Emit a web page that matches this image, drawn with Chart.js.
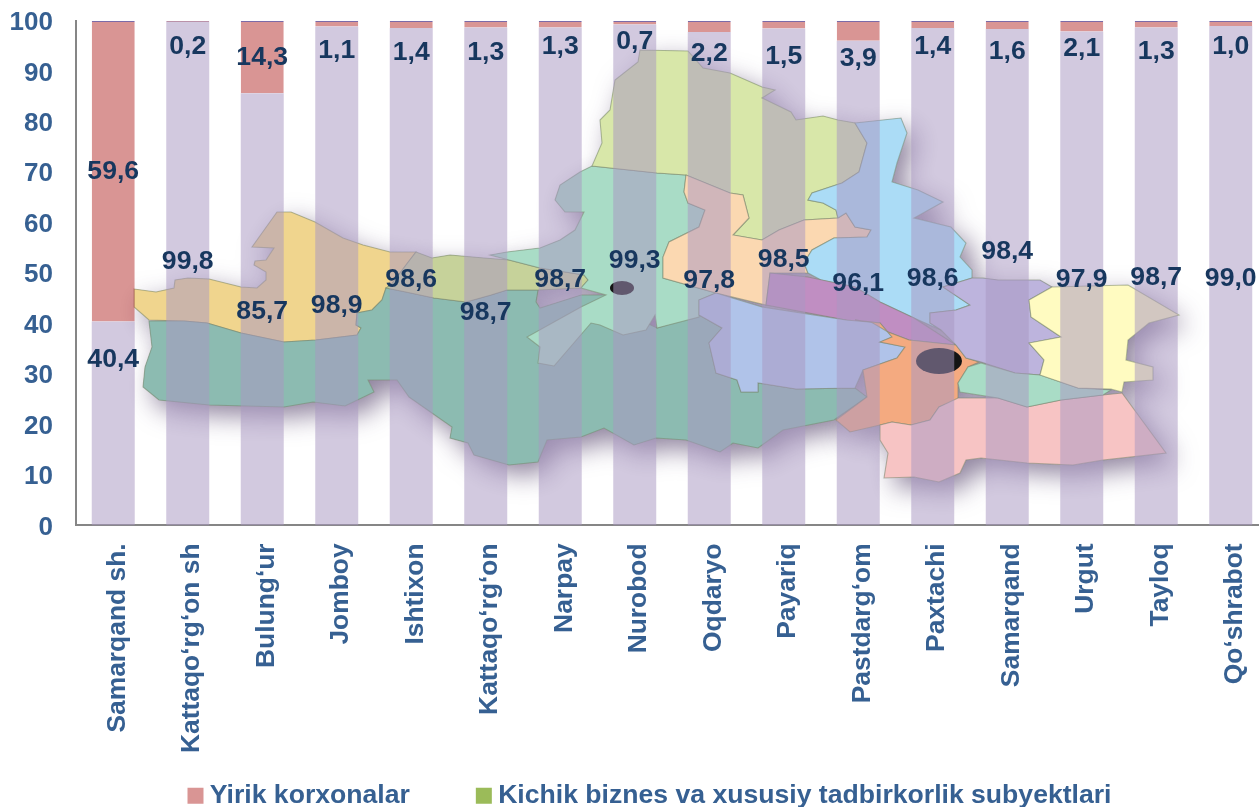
<!DOCTYPE html>
<html><head><meta charset="utf-8">
<style>html,body{margin:0;padding:0;background:#fff;overflow:hidden;width:1259px;height:807px}canvas{display:block}</style>
<script src="https://cdn.jsdelivr.net/npm/chart.js@4"></script>
</head><body><canvas id="c" width="1306" height="819"></canvas>
<script>
const categories = ["Samarqand sh.","Kattaqo‘rg‘on sh","Bulung‘ur","Jomboy","Ishtixon","Kattaqo‘rg‘on","Narpay","Nurobod","Oqdaryo","Payariq","Pastdarg‘om","Paxtachi","Samarqand","Urgut","Tayloq","Qo‘shrabot"];
const yirik = [59.6,0.2,14.3,1.1,1.4,1.3,1.3,0.7,2.2,1.5,3.9,1.4,1.6,2.1,1.3,1.0];
const kichik = [40.4,99.8,85.7,98.9,98.6,98.7,98.7,99.3,97.8,98.5,96.1,98.6,98.4,97.9,98.7,99.0];
const yTicks = [0,10,20,30,40,50,60,70,80,90,100];
// hand-placed label heights of the source chart, in axis units
const yirikLabelAt = [70.1,94.9,92.7,94.1,93.7,93.7,94.9,96,93.5,92.9,92.5,94.9,93.9,94.5,93.9,94.9];
const kichikLabelAt = [32.9,52.3,42.4,43.6,48.7,42.2,48.7,52.5,48.5,52.7,47.9,48.9,54.3,48.7,49.1,48.9];

// Decorative backdrop: regional map picture behind the bars (not data)
const MAP = [
 ["#F0D58E",[[134,289],[156,292],[174,288],[175,280],[188,278],[209,279],[241,287],[257,288],[266,280],[266,272],[254,265],[255,261],[266,260],[274,248],[252,247],[277,212],[291,212],[315,222],[343,238],[363,245],[390,252],[416,252],[406,265],[391,285],[386,288],[382,300],[372,310],[357,313],[356,325],[361,328],[357,335],[316,340],[284,342],[241,333],[207,323],[184,321],[149,320],[134,307]]],
 ["#8CBBB1",[[149,321],[184,321],[207,323],[241,333],[284,342],[316,340],[357,335],[361,328],[356,325],[357,313],[372,310],[382,300],[386,288],[406,292],[434,298],[466,302],[491,295],[507,290],[538,290],[536,302],[540,308],[581,295],[606,295],[640,320],[657,328],[699,315],[722,328],[709,343],[716,373],[737,380],[741,392],[758,392],[758,383],[796,389],[855,388],[867,397],[834,420],[783,430],[758,448],[733,443],[720,452],[686,440],[656,438],[634,445],[604,428],[581,437],[547,440],[538,462],[509,465],[474,455],[468,443],[450,438],[452,427],[409,397],[397,380],[368,380],[374,392],[345,406],[313,402],[284,407],[209,405],[159,400],[143,387],[145,367],[152,347]]],
 ["#C6D29A",[[416,252],[432,258],[450,255],[484,258],[509,260],[540,268],[584,275],[588,280],[581,288],[538,290],[507,290],[491,295],[466,302],[434,298],[406,292],[386,288],[391,285],[406,265]]],
 ["#A9DCC6",[[592,166],[657,173],[686,175],[684,192],[688,203],[705,210],[699,227],[669,242],[663,257],[663,278],[716,293],[699,300],[699,317],[657,328],[655,315],[646,330],[623,335],[600,325],[591,323],[554,366],[538,363],[540,347],[527,337],[581,307],[606,295],[581,288],[588,280],[584,275],[540,268],[509,260],[490,255],[507,252],[540,248],[560,240],[575,230],[584,212],[565,212],[555,200],[560,185],[580,172]]],
 ["#D8E7A9",[[615,80],[638,62],[640,50],[688,51],[703,68],[730,73],[762,87],[775,90],[762,98],[791,112],[796,120],[823,116],[838,120],[855,123],[867,143],[859,172],[842,183],[812,193],[808,200],[823,203],[836,210],[838,218],[804,220],[779,230],[762,240],[733,235],[749,218],[743,195],[730,193],[686,175],[657,173],[592,166],[602,143],[600,120],[610,110]]],
 ["#FBD8B1",[[686,175],[730,193],[743,195],[749,218],[733,235],[762,240],[779,230],[804,220],[838,218],[846,213],[855,227],[871,230],[867,237],[834,238],[812,250],[804,263],[808,273],[770,273],[766,305],[716,293],[663,278],[663,257],[669,242],[699,227],[705,210],[688,203],[684,192]]],
 ["#ABDCF6",[[855,123],[901,118],[907,133],[897,163],[892,182],[918,190],[943,202],[914,218],[951,227],[966,243],[960,257],[972,270],[972,278],[943,287],[970,305],[956,310],[930,313],[930,323],[941,330],[914,318],[880,302],[855,287],[821,280],[808,273],[804,263],[812,250],[834,238],[867,237],[871,230],[855,227],[846,213],[838,218],[836,210],[823,203],[808,200],[812,193],[842,183],[859,172],[867,143]]],
 ["#C08EC2",[[770,273],[808,277],[855,287],[880,302],[914,318],[956,345],[909,340],[888,332],[846,320],[766,305]]],
 ["#B0C3E9",[[699,300],[716,293],[762,307],[846,320],[880,323],[892,337],[880,342],[905,347],[897,358],[863,370],[855,388],[796,389],[758,383],[758,392],[741,392],[737,380],[716,373],[709,343],[722,328],[699,315]]],
 ["#F4AA80",[[855,320],[871,322],[888,332],[909,340],[956,345],[966,358],[979,362],[968,367],[958,383],[958,400],[939,407],[930,420],[911,425],[892,422],[880,425],[850,432],[836,420],[867,397],[863,370],[897,358],[905,347],[880,342],[892,337],[880,323]]],
 ["#F7C4C4",[[880,425],[892,422],[911,425],[930,420],[939,407],[958,398],[998,398],[1027,407],[1061,400],[1103,395],[1122,393],[1166,453],[1103,460],[1073,465],[1027,463],[981,458],[966,460],[960,473],[939,482],[914,477],[884,478],[888,453],[880,440]]],
 ["#BDB4DD",[[930,313],[956,310],[970,305],[943,287],[972,278],[983,278],[998,280],[1040,280],[1052,287],[1029,300],[1031,317],[1061,337],[1029,343],[1044,360],[1040,375],[1015,373],[981,362],[966,358],[956,345],[941,330],[930,323]]],
 ["#A9DCC6",[[981,363],[1015,373],[1040,375],[1078,388],[1111,390],[1103,395],[1061,400],[1027,407],[998,398],[960,392],[958,383],[968,367]]],
 ["#FFFBC1",[[1029,300],[1052,287],[1128,285],[1179,315],[1149,323],[1128,340],[1126,360],[1153,367],[1153,380],[1124,382],[1122,392],[1111,389],[1078,388],[1040,375],[1044,360],[1029,343],[1061,337],[1031,317]]]
];
const MAP_DOTS = [[622,288,12,7],[939,361,23,13]];

function poly(ctx,pts){ctx.beginPath();pts.forEach((p,i)=>i?ctx.lineTo(p[0],p[1]):ctx.moveTo(p[0],p[1]));ctx.closePath();}

const mapPlugin = {id:'mapBackdrop',
 afterLayout(chart){chart.scales.x.bottom=chart.height;chart.legend.left+=19;chart.legend.right+=19;},
 beforeDatasetsDraw(chart){
  const ctx=chart.ctx;ctx.save();
  ctx.shadowColor='rgba(70,50,95,0.6)';ctx.shadowBlur=26;ctx.shadowOffsetX=9;ctx.shadowOffsetY=10;
  MAP.forEach(r=>{poly(ctx,r[1]);ctx.fillStyle=r[0];ctx.fill();});
  ctx.shadowColor='transparent';ctx.shadowBlur=0;ctx.shadowOffsetX=0;ctx.shadowOffsetY=0;
  MAP.forEach(r=>{poly(ctx,r[1]);ctx.fillStyle=r[0];ctx.fill();ctx.lineWidth=1.1;ctx.strokeStyle='rgba(120,135,110,0.55)';ctx.stroke();});
  ctx.fillStyle='#141414';
  MAP_DOTS.forEach(d=>{ctx.beginPath();ctx.ellipse(d[0],d[1],d[2],d[3],0,0,Math.PI*2);ctx.fill();});
  ctx.restore();
}};
const fmt=v=>v.toFixed(1).replace('.',',');
const labelPlugin = {id:'valueLabels',afterDatasetsDraw(chart){
  const ctx=chart.ctx,y=chart.scales.y;ctx.save();
  ctx.font='bold 26.6px "Liberation Sans"';ctx.fillStyle='#17375E';ctx.textAlign='center';ctx.textBaseline='middle';
  [[0,kichik,kichikLabelAt],[1,yirik,yirikLabelAt]].forEach(([i,vals,at])=>{
    chart.getDatasetMeta(i).data.forEach((bar,k)=>ctx.fillText(fmt(vals[k]),bar.x,y.getPixelForValue(at[k])));
  });
  ctx.restore();
}};
new Chart(document.getElementById('c'),{
  type:'bar',
  data:{labels:categories,datasets:[
    {label:'Kichik biznes va xususiy tadbirkorlik subyektlari',data:kichik,backgroundColor:'rgba(168,151,193,0.52)',borderWidth:0},
    {label:'Yirik korxonalar',data:yirik,backgroundColor:'rgba(182,51,49,0.52)',borderColor:'#7B6BA8',borderWidth:{top:1,left:0,right:0,bottom:0},borderSkipped:false}
  ]},
  plugins:[mapPlugin,labelPlugin],
  options:{
    responsive:false,animation:false,devicePixelRatio:1,
    layout:{padding:{top:21,right:38,left:0,bottom:0}},
    datasets:{bar:{categoryPercentage:1,barPercentage:0.577}},
    scales:{
      x:{stacked:true,grid:{display:false,drawTicks:false},border:{color:'#868686',width:2},
        ticks:{autoSkip:false,minRotation:90,maxRotation:90,padding:18,labelOffset:4,color:'#366092',font:{family:'"Liberation Sans"',size:26.4,weight:'bold'}},
        afterFit(s){s.height=184;}},
      y:{stacked:true,min:0,max:100,grid:{display:false,drawTicks:false},border:{color:'#868686',width:2},
        afterBuildTicks(s){s.ticks=yTicks.map(v=>({value:v}));},
        ticks:{padding:23,labelOffset:2,color:'#366092',font:{family:'"Liberation Sans"',size:26,weight:'bold'}},
        afterFit(s){s.width=76;s.paddingTop=0;s.paddingBottom=0;}}
    },
    plugins:{
      tooltip:{enabled:false},
      legend:{position:'bottom',labels:{
        padding:73,boxWidth:2,boxHeight:2,color:'#366092',font:{family:'"Liberation Sans"',size:26.6,weight:'bold'},
        generateLabels(){return [
          {text:'Yirik korxonalar',fillStyle:'#D99594',strokeStyle:'#D99594',lineWidth:14,fontColor:'#366092'},
          {text:'Kichik biznes va xususiy tadbirkorlik subyektlari',fillStyle:'#9BBB59',strokeStyle:'#9BBB59',lineWidth:14,fontColor:'#366092'}
        ];}
      }}
    }
  }
});
</script></body></html>
